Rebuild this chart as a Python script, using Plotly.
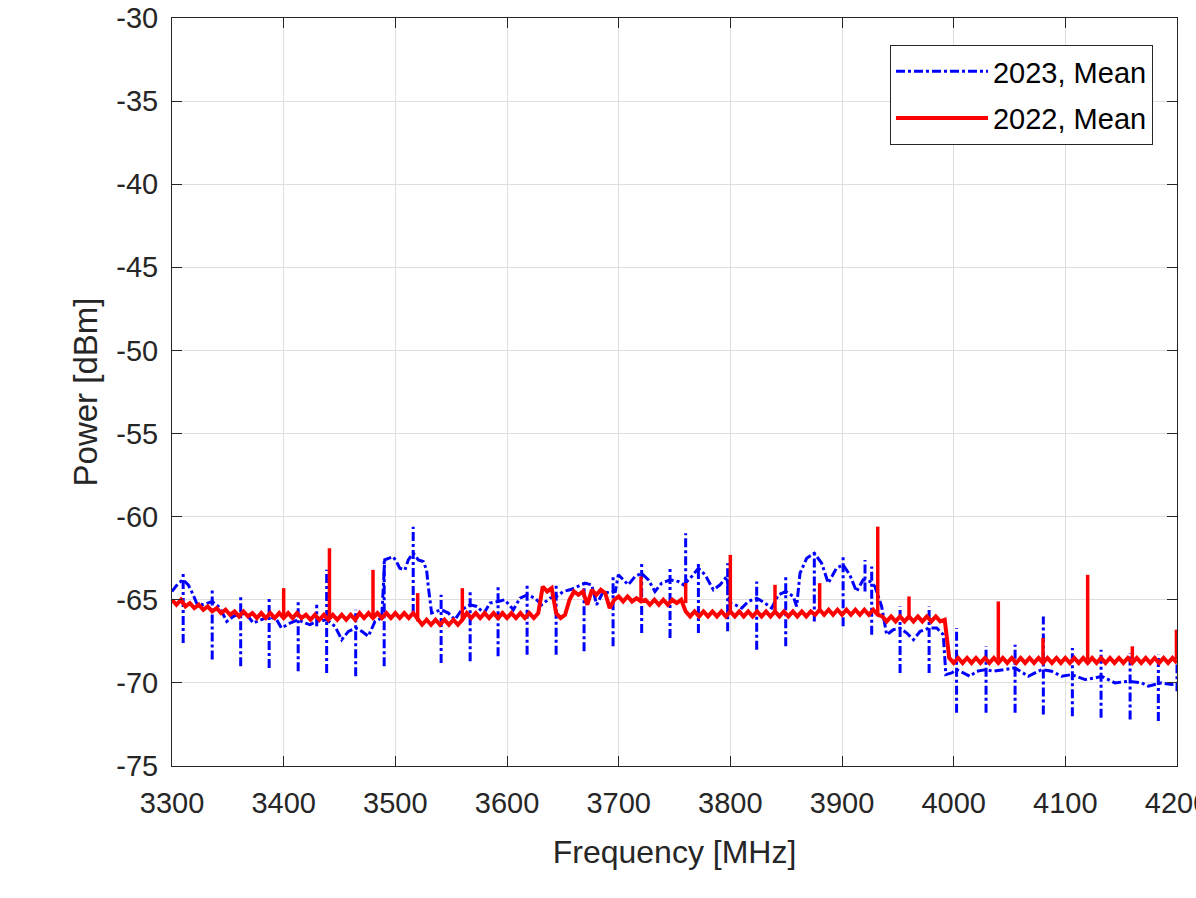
import plotly.graph_objects as go

# ---------------- data ----------------
# 2023, Mean : base trace
blue_freq = [3300, 3305.6, 3310, 3314.6, 3319, 3322, 3328, 3336, 3341.5, 3344.5, 3349, 3355,
             3361.5, 3367, 3372.8, 3380, 3387, 3393.8, 3398, 3405.7, 3413, 3419, 3423.6, 3429.6,
             3438.5, 3446, 3452, 3458, 3464.5, 3470, 3475.8, 3481.8, 3487.8, 3490.5, 3498, 3501,
             3504, 3508.6, 3511.6, 3516, 3520.6, 3525, 3528, 3529.5, 3532.5, 3541, 3547.5, 3553.4,
             3559.4, 3567, 3573, 3579.4, 3584.8, 3592.2, 3598, 3605.7, 3611.6, 3618.2, 3625, 3631,
             3638.5, 3644.5, 3650.4, 3656.4, 3662.4, 3669.8, 3675.8, 3680.3, 3686.2, 3692.2, 3697,
             3699.7, 3704.2, 3708.6, 3714.6, 3720.6, 3726.6, 3732.5, 3738.5, 3746, 3753.4, 3758,
             3765.4, 3771.4, 3777.4, 3784.8, 3790.8, 3796.8, 3799.7, 3804.2, 3810.2, 3816.1, 3823.6,
             3831, 3837, 3843, 3849.6, 3856.4, 3859.4, 3862.4, 3868.4, 3875.2, 3881.8, 3887.7, 3895,
             3901, 3907, 3913, 3919, 3925, 3929.5, 3935.5, 3940, 3946, 3952, 3958, 3964, 3970, 3978,
             3984.8, 3990.7, 3993, 3998.2, 4002.6, 4008.6, 4014.6, 4020.6, 4029, 4035.5, 4045.9,
             4054.9, 4066.8, 4078.8, 4087.7, 4096.7, 4105.6, 4117.6, 4126.5, 4132.5, 4144.4, 4156.4,
             4168.3, 4174.3, 4186.2, 4195.2, 4200]
blue_power = [-64.5, -64.0, -63.8, -64.1, -64.7, -65.2, -65.3, -65.1, -65.4, -65.7, -66.3, -66.0,
              -65.8, -65.9, -66.4, -66.2, -66.0, -66.2, -66.7, -66.4, -66.2, -66.4, -66.5, -66.3,
              -66.2, -66.6, -67.4, -66.9, -66.7, -66.9, -67.2, -66.3, -66.1, -62.6, -62.4, -62.7,
              -63.1, -63.2, -62.6, -62.2, -62.6, -62.7, -63.2, -64.2, -65.8, -65.6, -65.8, -66.2,
              -65.6, -65.3, -65.4, -65.8, -65.2, -65.1, -65.0, -65.6, -64.9, -64.7, -64.9, -65.3,
              -64.9, -64.8, -64.5, -64.4, -64.2, -64.0, -64.1, -65.3, -64.5, -64.6, -64.5,
              -63.5, -63.8, -64.1, -63.6, -63.4, -63.8, -64.5, -64.0, -63.8, -63.9, -64.1,
              -63.6, -63.1, -63.5, -64.4, -64.1, -63.6, -65.2, -65.3, -65.5, -65.1, -64.9,
              -65.2, -65.5, -64.7, -64.5, -64.8, -65.4, -63.4, -62.5, -62.2, -62.8, -64.0, -63.1,
              -62.9, -63.5, -64.5, -63.8, -63.9, -64.2, -65.4, -67.1, -66.8, -66.7, -67.0, -67.4, -66.9, -66.7,
              -66.7, -67.1, -69.5, -69.4, -69.2, -69.4, -69.6, -69.3, -69.2, -69.3, -69.2,
              -69.1, -69.6, -69.2, -69.3, -69.6, -69.5, -69.8, -69.7, -69.6, -70.0, -69.9,
              -70.0, -70.2, -70.0, -70.1, -70.0]

# 2023, Mean : narrow spikes (frequency, lower end, upper end)
blue_spike_freq = [3310, 3336, 3361.5, 3387, 3413, 3429.6, 3438.5, 3464.5, 3490, 3516, 3541, 3567,
                   3592, 3618, 3644, 3669, 3695, 3720.6, 3746, 3760, 3771.4, 3797.6, 3823.6, 3849.6,
                   3875.2, 3901, 3920.6, 3926.6, 3952, 3978, 4002.6, 4029, 4055, 4080.3, 4106.3,
                   4132, 4158, 4183.3, 4200]
blue_spike_low = [-67.6, -68.6, -69.0, -69.1, -69.3, -66.6, -69.4, -69.6, -69.0, -65.8, -68.8, -68.7,
                  -68.4, -68.3, -68.3, -68.1, -67.8, -67.0, -67.3, -64.0, -67.0, -66.9, -68.0, -67.8,
                  -66.3, -66.6, -64.5, -67.1, -69.4, -69.4, -71.8, -71.8, -71.8, -71.9, -72.0,
                  -72.1, -72.2, -72.3, -70.5]
blue_spike_high = [-63.3, -64.3, -64.8, -64.8, -65.0, -65.3, -63.2, -65.6, -62.5, -60.6, -64.7, -64.4,
                   -64.2, -64.0, -64.0, -63.9, -63.6, -62.7, -63.0, -61.0, -62.7, -62.8, -63.9, -63.5,
                   -62.1, -62.3, -62.6, -63.0, -65.4, -65.4, -66.7, -67.8, -67.7, -66.0, -67.9,
                   -68.0, -68.2, -68.3, -68.9]

# 2022, Mean : trace sampled every 4 MHz from 3300 to 4200
red_freq = list(range(3300, 4201, 4))
red_power = [
    -65.0, -65.3, -65.0, -65.4, -65.2, -65.5, -65.3, -65.6, -65.4, -65.7,   # 3300-3336
    -65.5, -65.8, -65.6, -65.9, -65.7, -66.0, -65.7, -66.0, -65.8, -66.1,   # 3340-3376
    -65.8, -66.1, -65.8, -66.1, -65.8, -66.1, -65.8, -66.1, -65.8, -66.1,   # 3380-3416
    -65.9, -66.2, -65.9, -66.2, -65.9, -66.2, -65.9, -66.2, -65.9, -66.2,   # 3420-3456
    -65.9, -66.2, -65.8, -66.1, -65.8, -66.1, -65.8, -66.1, -65.8, -66.1,   # 3460-3496
    -65.8, -66.1, -65.8, -66.1, -65.8, -66.2, -66.5, -66.2, -66.5, -66.2,   # 3500-3536
    -66.5, -66.2, -66.5, -66.2, -66.5, -66.2, -65.8, -66.1, -65.8, -66.1,   # 3540-3576
    -65.8, -66.1, -65.8, -66.1, -65.8, -66.1, -65.8, -66.1, -65.8, -66.1,   # 3580-3616
    -65.8, -66.1, -65.8, -64.2, -64.5, -64.3, -65.8, -66.1, -65.9, -65.0,   # 3620-3656
    -64.5, -64.7, -64.5, -65.3, -64.4, -64.7, -64.4, -64.6, -65.5, -65.0,   # 3660-3696
    -64.8, -65.1, -64.8, -65.1, -64.9, -65.1, -65.0, -65.3, -65.0, -65.3,   # 3700-3736
    -65.0, -65.3, -65.0, -65.2, -65.0, -65.7, -66.0, -65.7, -66.0, -65.7,   # 3740-3776
    -66.0, -65.7, -66.0, -65.7, -66.0, -65.7, -66.0, -65.7, -66.0, -65.7,   # 3780-3816
    -66.0, -65.7, -66.0, -65.7, -66.0, -65.7, -66.0, -65.7, -66.0, -65.7,   # 3820-3856
    -66.0, -65.7, -66.0, -65.7, -65.9, -65.6, -65.9, -65.6, -65.9, -65.6,   # 3860-3896
    -65.9, -65.6, -65.9, -65.6, -65.9, -65.6, -65.9, -65.6, -65.9, -66.0,   # 3900-3936
    -66.3, -66.0, -66.3, -66.0, -66.3, -66.0, -66.3, -66.0, -66.3, -66.0,   # 3940-3976
    -66.3, -66.0, -66.3, -66.2, -68.5, -68.8, -68.5, -68.8, -68.5, -68.8,   # 3980-4016
    -68.5, -68.8, -68.5, -68.8, -68.5, -68.8, -68.5, -68.8, -68.5, -68.8,   # 4020-4056
    -68.5, -68.8, -68.5, -68.8, -68.5, -68.8, -68.5, -68.8, -68.5, -68.8,   # 4060-4096
    -68.5, -68.8, -68.5, -68.8, -68.5, -68.8, -68.5, -68.8, -68.5, -68.8,   # 4100-4136
    -68.5, -68.8, -68.5, -68.8, -68.5, -68.8, -68.5, -68.8, -68.5, -68.8,   # 4140-4176
    -68.5, -68.8, -68.5, -68.8, -68.5, -68.8,                               # 4180-4200
]

# 2022, Mean : narrow spikes (frequency, base, top)
red_spike_freq = [3400, 3441, 3480, 3520, 3560, 3720, 3760, 3800, 3840, 3880, 3932, 3960,
                  4040, 4080, 4120, 4160, 4199.5]
red_spike_base = [-66.0, -66.1, -66.0, -66.3, -66.3, -65.0, -65.2, -65.8, -65.8, -65.7, -65.9, -66.2,
                  -68.6, -68.6, -68.6, -68.6, -68.6]
red_spike_top = [-64.3, -61.9, -63.2, -64.6, -64.3, -63.6, -64.0, -62.3, -64.1, -64.0, -60.6, -64.8,
                 -65.1, -67.3, -63.5, -67.8, -66.8]

x_ticks = [3300, 3400, 3500, 3600, 3700, 3800, 3900, 4000, 4100, 4200]
y_ticks = [-75, -70, -65, -60, -55, -50, -45, -40, -35, -30]


def segments(freqs, lows, highs):
    xs, ys = [], []
    for f, a, b in zip(freqs, lows, highs):
        xs += [f, f, None]
        ys += [a, b, None]
    return xs, ys


BLUE = "#0000ff"
RED = "#ff0000"
FONT = "Liberation Sans, Arial, Helvetica, sans-serif"
AX = "#262626"

fig = go.Figure()
fig.add_trace(go.Scatter(x=blue_freq, y=blue_power, mode="lines", name="2023, Mean",
                         line=dict(color=BLUE, width=3, dash="dashdot"), legendgroup="a"))
bx, by = segments(blue_spike_freq, blue_spike_low, blue_spike_high)
fig.add_trace(go.Scatter(x=bx, y=by, mode="lines", showlegend=False, legendgroup="a",
                         line=dict(color=BLUE, width=3, dash="dashdot")))
fig.add_trace(go.Scatter(x=red_freq, y=red_power, mode="lines", name="2022, Mean",
                         line=dict(color=RED, width=4), legendgroup="b"))
rx, ry = segments(red_spike_freq, red_spike_base, red_spike_top)
fig.add_trace(go.Scatter(x=rx, y=ry, mode="lines", showlegend=False, legendgroup="b",
                         line=dict(color=RED, width=3.5)))

axis_common = dict(showline=True, linecolor=AX, linewidth=1, mirror="ticks",
                   ticks="inside", ticklen=10, tickwidth=1, tickcolor=AX,
                   showgrid=True, gridcolor="#dedede", gridwidth=1, zeroline=False,
                   automargin=False,
                   tickfont=dict(family=FONT, size=29, color=AX))

fig.update_xaxes(range=[3300, 4200], tickvals=x_ticks, ticktext=[str(v) for v in x_ticks],
                 ticklabelstandoff=11, ticklabeloverflow="allow",
                 title=dict(text="Frequency [MHz]", font=dict(family=FONT, size=32, color=AX), standoff=22),
                 **axis_common)
fig.update_yaxes(range=[-75, -30], tickvals=y_ticks, ticktext=[str(v) for v in y_ticks],
                 ticklabelstandoff=7,
                 title=dict(text="Power [dBm]", font=dict(family=FONT, size=33, color=AX), standoff=8),
                 **axis_common)

fig.update_layout(
    width=1196, height=898,
    margin=dict(l=172, r=19, t=18, b=132, autoexpand=False),
    paper_bgcolor="white", plot_bgcolor="white",
    legend=dict(x=0.9761, y=0.9639, xanchor="right", yanchor="top",
                bgcolor="white", bordercolor=AX, borderwidth=1,
                font=dict(family=FONT, size=29, color="black"),
                itemwidth=92, tracegroupgap=6, traceorder="grouped"),
    showlegend=True,
)

fig.write_html("out.html")
